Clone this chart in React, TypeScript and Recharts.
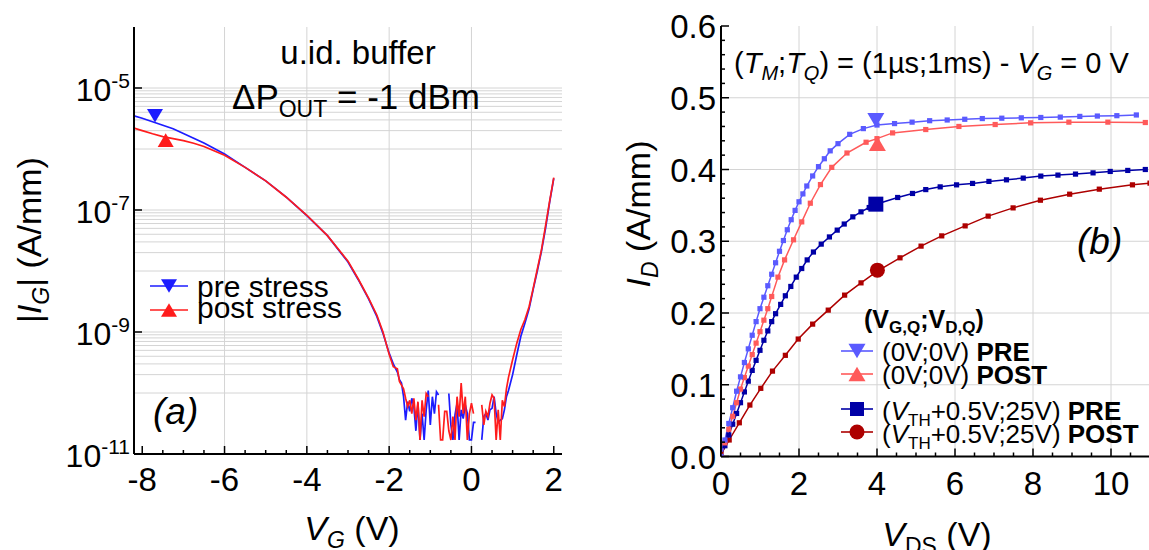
import React from "react";
import { CartesianGrid, ComposedChart, Line, Scatter, XAxis, YAxis } from "recharts";

const FONT = "Arial, 'Liberation Sans', Helvetica, sans-serif";

// ---- panel (a): |I_G| vs V_G, log scale ----
const vgA = [
  -8.2, -8.0, -7.75, -7.5, -7.25, -7.0, -6.75, -6.5, -6.0, -5.5, -5.0, -4.5, -4.0, -3.5, -3.0, -2.75, -2.5, -2.3, -2.15, -2.0, -1.9, -1.8,
  -1.75, -1.7, -1.65, -1.6, -1.55, -1.5, -1.45, -1.4, -1.35, -1.3, -1.25, -1.2, -1.15, -1.1, -1.05, -1.0, -0.95, -0.9, -0.85, -0.8,
  -0.75, -0.7, -0.65, -0.6, -0.55, -0.5, -0.45, -0.4, -0.35, -0.3, -0.25, -0.2, -0.15, -0.1, -0.05, 0.0, 0.05, 0.1, 0.15, 0.2,
  0.25, 0.3, 0.35, 0.4, 0.45, 0.5, 0.55, 0.6, 0.65, 0.7, 0.75, 0.8, 0.85, 0.9,
  1.0, 1.1, 1.2, 1.3, 1.4, 1.5, 1.6, 1.7, 1.8, 1.9, 2.0,
];
const igPre = [
  3.5e-6, 3.2e-6, 2.8e-6, 2.45e-6, 2.15e-6, 1.8e-6, 1.5e-6, 1.25e-6, 8.3e-7, 5.0e-7, 3.0e-7, 1.63e-7, 8.1e-8, 3.8e-8, 1.4e-8, 7.2e-9, 3.5e-9, 1.8e-9, 9.5e-10, 4.5e-10, 3.0e-10, 2.2e-10,
  1.65e-10, 1.45e-10, 8.7e-11, 3.6e-11, 7.2e-11, 5.0e-11, 8.2e-11, 6.0e-11, 2.4e-11, 6.8e-11, 1.7e-11, 4.6e-11, 1.7e-11, 5.3e-11, 1.1e-10, 3.0e-11, 8.7e-11, 4.6e-11, 1.05e-10, 9.3e-11,
  null, null, null, null, 9.8e-11, 3.0e-11, 1.7e-11, 4.4e-11, 6.8e-11, 1.7e-11, 5.3e-11, 3.8e-11, 6.4e-11, 4.6e-11, 1.7e-11, 1.7e-11, 3.3e-11, 3.3e-11, null, null,
  1.7e-11, 4.1e-11, 4.6e-11, 3.6e-11, 5.3e-11, 5.6e-11, 8.7e-11, 4.6e-11, 3.3e-11, 3.6e-11, 3.8e-11, 5.3e-11, 8.7e-11, 1.1e-10,
  2.0e-10, 4.2e-10, 8.5e-10, 1.4e-9, 2.4e-9, 5.0e-9, 1.0e-8, 2.1e-8, 5.0e-8, 1.35e-7, 3.3e-7,
];
const igPost = [
  2.2e-6, 2.0e-6, 1.78e-6, 1.6e-6, 1.48e-6, 1.37e-6, 1.24e-6, 1.1e-6, 7.9e-7, 5.0e-7, 3.0e-7, 1.62e-7, 8.2e-8, 3.8e-8, 1.45e-8, 7.4e-9, 3.6e-9, 1.9e-9, 1.0e-9, 4.3e-10, 2.7e-10, 2.5e-10,
  1.55e-10, 1.35e-10, 1.17e-10, 8.2e-11, 6.0e-11, 7.6e-11, 4.6e-11, 8.2e-11, 3.6e-11, 7.2e-11, 1.7e-11, 7.6e-11, 4.1e-11, 9.8e-11, 8.7e-11, null, null, null, null, 6.4e-11,
  1.7e-11, 1.7e-11, 5.0e-11, 5.0e-11, 2.4e-11, 1.7e-11, 4.1e-11, 1.7e-11, 8.7e-11, 4.1e-11, 1.45e-10, 4.6e-11, 8.7e-11, 1.7e-11, 4.6e-11, 6.8e-11, 4.6e-11, null, null, null,
  6.4e-11, 3.0e-11, 5.0e-11, 4.1e-11, 6.8e-11, 9.3e-11, 8.2e-11, 1.7e-11, 5.3e-11, 1.7e-11, 7.6e-11, 6.0e-11, 1.17e-10, 1.8e-10,
  3.5e-10, 6.5e-10, 1.1e-9, 1.6e-9, 2.6e-9, 5.2e-9, 1.07e-8, 2.2e-8, 5.5e-8, 1.4e-7, 3.4e-7,
];
const markPreA = [{ vg: -7.69, ig: 3.5e-6 }];
const markPostA = [{ vg: -7.43, ig: 1.4e-6 }];
const logTicksA = [1e-11, 1e-9, 1e-7, 1e-5];
const minorDecadesA = [-6, -8, -10];

// ---- panel (b): I_D vs V_DS ----
const vdsPre0 = [0, 0.1, 0.2, 0.3, 0.4, 0.5, 0.6, 0.7, 0.8, 0.9, 1.0, 1.1, 1.2, 1.3, 1.4, 1.5, 1.6, 1.7, 1.8, 1.9, 2.0, 2.1, 2.2, 2.35, 2.5, 2.65, 2.8, 3.0, 3.3, 3.65, 4.0, 4.45, 4.9, 5.35, 5.8, 6.25, 6.7, 7.2, 7.7, 8.2, 8.7, 9.2, 9.65, 10.15, 10.65];
const idPre0 = [0.0, 0.023, 0.046, 0.068, 0.091, 0.111, 0.131, 0.15, 0.169, 0.188, 0.206, 0.222, 0.238, 0.254, 0.27, 0.286, 0.301, 0.316, 0.33, 0.343, 0.355, 0.366, 0.377, 0.391, 0.404, 0.415, 0.426, 0.436, 0.449, 0.457, 0.462, 0.464, 0.466, 0.468, 0.469, 0.47, 0.471, 0.4715, 0.472, 0.4725, 0.473, 0.474, 0.4745, 0.475, 0.476];
const vdsPost0 = [0, 0.1, 0.2, 0.3, 0.4, 0.5, 0.6, 0.7, 0.8, 0.9, 1.0, 1.1, 1.2, 1.3, 1.46, 1.63, 1.86, 2.07, 2.29, 2.55, 2.84, 3.23, 3.72, 4.0, 4.4, 5.25, 6.1, 7.03, 7.94, 8.92, 9.92, 10.88];
const idPost0 = [0.0, 0.019, 0.038, 0.056, 0.075, 0.094, 0.11, 0.126, 0.142, 0.158, 0.174, 0.19, 0.206, 0.223, 0.25, 0.274, 0.302, 0.327, 0.353, 0.379, 0.403, 0.423, 0.438, 0.443, 0.451, 0.4557, 0.46, 0.4627, 0.465, 0.466, 0.466, 0.4655];
const vdsPreTh = [0, 0.1, 0.2, 0.3, 0.4, 0.5, 0.6, 0.7, 0.8, 0.9, 1.0, 1.1, 1.2, 1.3, 1.4, 1.53, 1.65, 1.79, 1.93, 2.07, 2.21, 2.37, 2.57, 2.78, 2.98, 3.16, 3.38, 3.59, 3.8, 4.0, 4.53, 4.91, 5.25, 5.62, 6.04, 6.45, 6.87, 7.32, 7.75, 8.2, 8.64, 9.09, 9.54, 9.98, 10.43, 10.88];
const idPreTh = [0.0, 0.015, 0.03, 0.045, 0.06, 0.075, 0.09, 0.105, 0.12, 0.134, 0.148, 0.162, 0.175, 0.188, 0.199, 0.212, 0.224, 0.237, 0.25, 0.262, 0.274, 0.285, 0.296, 0.306, 0.3155, 0.324, 0.334, 0.341, 0.347, 0.352, 0.361, 0.3666, 0.372, 0.3758, 0.3786, 0.3806, 0.3834, 0.3856, 0.388, 0.3908, 0.3922, 0.3936, 0.3953, 0.3973, 0.3987, 0.4];
const vdsPostTh = [0, 0.21, 0.47, 0.74, 1.02, 1.32, 1.65, 1.98, 2.35, 2.75, 3.17, 3.59, 4.0, 4.59, 5.13, 5.66, 6.26, 6.85, 7.49, 8.19, 8.94, 9.7, 10.55, 11.0];
const idPostTh = [0.003, 0.023, 0.047, 0.0717, 0.095, 0.119, 0.141, 0.1637, 0.1845, 0.204, 0.2249, 0.242, 0.258, 0.2769, 0.2932, 0.3075, 0.3214, 0.335, 0.3465, 0.3572, 0.3656, 0.3726, 0.3786, 0.381];
const bigMarksB = [
  { v: 3.97, id: 0.4687 },
  { v: 4.01, id: 0.436 },
  { v: 3.97, id: 0.3517 },
  { v: 4.01, id: 0.2597 },
];

const C_BLUE = "#1c1cff";
const C_RED = "#ff1c1c";
const C_LBLUE = "#5a5aff";
const C_LRED = "#ff5a5a";
const C_DBLUE = "#0000a6";
const C_DRED = "#ad0000";

const rowsA = vgA.map((vg, i) => ({ vg, pre: igPre[i], post: igPost[i] }));
const toRows = (vs: number[], ids: number[]) => vs.map((v, i) => ({ v, id: ids[i] }));

const gridA: number[] = [];
logTicksA.slice(1).forEach((t) => gridA.push(t));
minorDecadesA.forEach((d) => {
  for (let k = 2; k <= 9; k++) gridA.push(k * Math.pow(10, d));
  gridA.push(Math.pow(10, d));
});

const xTicksA = Array.from({ length: 21 }, (_, i) => -8 + i * 0.5);
const xTicksB = Array.from({ length: 23 }, (_, i) => i * 0.5);
const yTicksB = Array.from({ length: 31 }, (_, i) => Math.round(i * 2) / 100);

const isMult = (v: number, step: number) => Math.abs(v / step - Math.round(v / step)) < 1e-6;

function BottomTick(props: any) {
  const { x, y, payload } = props;
  const major = isMult(payload.value, 2);
  return (
    <g>
      <line x1={x} x2={x} y1={y} y2={y - (major ? 8 : 4)} stroke="#000" strokeWidth={1.5} />
      {major && (
        <text x={x} y={y + props.dy} textAnchor="middle" fontSize={33} fontFamily={FONT} fill="#000">
          {payload.value}
        </text>
      )}
    </g>
  );
}

function TopTick(props: any) {
  const { x, y, payload } = props;
  const major = isMult(payload.value, 2);
  return <line x1={x} x2={x} y1={y} y2={y + (major ? 8 : 4)} stroke="#000" strokeWidth={1.5} />;
}

function LogTick(props: any) {
  const { x, y, payload } = props;
  const exp = Math.round(Math.log10(payload.value));
  return (
    <g>
      <line x1={x} x2={x + 8} y1={y} y2={y} stroke="#000" strokeWidth={1.5} />
      <text x={x - 4} y={y + 13} textAnchor="end" fontFamily={FONT} fill="#000">
        <tspan fontSize={32}>10</tspan>
        <tspan fontSize={21} dy={-13}>{exp}</tspan>
      </text>
    </g>
  );
}

function RightLogTick(props: any) {
  const { x, y } = props;
  return <line x1={x} x2={x - 8} y1={y} y2={y} stroke="#000" strokeWidth={1.5} />;
}

function LeftTickB(props: any) {
  const { x, y, payload } = props;
  const major = isMult(payload.value, 0.1);
  return (
    <g>
      <line x1={x} x2={x + (major ? 8 : 4)} y1={y} y2={y} stroke="#000" strokeWidth={1.5} />
      {major && (
        <text x={x - 5} y={y + 12} textAnchor="end" fontSize={33} fontFamily={FONT} fill="#000">
          {payload.value.toFixed(1)}
        </text>
      )}
    </g>
  );
}

function RightTickB(props: any) {
  const { x, y, payload } = props;
  const major = isMult(payload.value, 0.1);
  return <line x1={x} x2={x - (major ? 8 : 4)} y1={y} y2={y} stroke="#000" strokeWidth={1.5} />;
}

function DownTri({ cx, cy, s, fill }: { cx: number; cy: number; s: number; fill: string }) {
  const h = s * 0.85;
  return <polygon points={`${cx - s / 2},${cy - h / 2} ${cx + s / 2},${cy - h / 2} ${cx},${cy + h / 2}`} fill={fill} />;
}

function UpTri({ cx, cy, s, fill }: { cx: number; cy: number; s: number; fill: string }) {
  const h = s * 0.85;
  return <polygon points={`${cx - s / 2},${cy + h / 2} ${cx + s / 2},${cy + h / 2} ${cx},${cy - h / 2}`} fill={fill} />;
}

const squareDot = (fill: string) => (p: any) => {
  if (p.cx == null || p.cy == null) return <g key={p.index} />;
  return <rect key={p.index} x={p.cx - 2.6} y={p.cy - 2.6} width={5.2} height={5.2} fill={fill} />;
};

const axisLine = { stroke: "#000", strokeWidth: 2 };

function PanelA() {
  return (
    <ComposedChart width={600} height={550} data={rowsA} margin={{ top: 27, right: 38, bottom: 46, left: 34 }}>
      <CartesianGrid horizontalValues={gridA} verticalValues={[-6, -4, -2, 0]} stroke="#d4d4d4" strokeWidth={1} />
      <XAxis dataKey="vg" type="number" domain={[-8.2, 2.2]} ticks={xTicksA} interval={0} height={50}
        tickSize={0} tickMargin={0} tickLine={false} axisLine={axisLine} allowDataOverflow
        tick={(p: any) => <BottomTick {...p} dy={37} />} />
      <XAxis xAxisId="top" orientation="top" type="number" domain={[-8.2, 2.2]} ticks={xTicksA} interval={0} height={0}
        tickSize={0} tickMargin={0} tickLine={false} axisLine={axisLine} allowDataOverflow
        tick={(p: any) => <TopTick {...p} />} />
      <YAxis type="number" scale="log" domain={[1e-11, 1e-4]} ticks={logTicksA} interval={0} width={100}
        tickSize={0} tickMargin={0} tickLine={false} axisLine={axisLine} allowDataOverflow
        tick={(p: any) => <LogTick {...p} />} />
      <YAxis yAxisId="r" orientation="right" type="number" scale="log" domain={[1e-11, 1e-4]} ticks={logTicksA} interval={0} width={0}
        tickSize={0} tickMargin={0} tickLine={false} axisLine={axisLine} allowDataOverflow
        tick={(p: any) => <RightLogTick {...p} />} />
      <Line dataKey="pre" type="linear" stroke={C_BLUE} strokeWidth={1.7} dot={false} isAnimationActive={false} connectNulls={false} />
      <Line dataKey="post" type="linear" stroke={C_RED} strokeWidth={1.7} dot={false} isAnimationActive={false} connectNulls={false} />
      <Scatter data={markPreA} dataKey="ig" isAnimationActive={false}
        shape={(p: any) => <DownTri cx={p.cx} cy={p.cy} s={16} fill={C_BLUE} />} />
      <Scatter data={markPostA} dataKey="ig" isAnimationActive={false}
        shape={(p: any) => <UpTri cx={p.cx} cy={p.cy} s={16} fill={C_RED} />} />
    </ComposedChart>
  );
}

function PanelB() {
  const bigShapes = [
    (p: any) => <DownTri cx={p.cx} cy={p.cy} s={17} fill={C_LBLUE} />,
    (p: any) => <UpTri cx={p.cx} cy={p.cy} s={17} fill={C_LRED} />,
    (p: any) => <rect x={p.cx - 7.5} y={p.cy - 7.5} width={15} height={15} fill={C_DBLUE} />,
    (p: any) => <circle cx={p.cx} cy={p.cy} r={7.5} fill={C_DRED} />,
  ];
  return (
    <ComposedChart width={560} height={550} margin={{ top: 26, right: 10, bottom: 43.5, left: 21 }}>
      <CartesianGrid horizontalValues={[0.1, 0.2, 0.3, 0.4, 0.5]} verticalValues={[2, 4, 6, 8, 10]} stroke="#d4d4d4" strokeWidth={1} />
      <XAxis dataKey="v" type="number" domain={[0, 11]} ticks={xTicksB} interval={0} height={50}
        tickSize={0} tickMargin={0} tickLine={false} axisLine={axisLine} allowDataOverflow
        tick={(p: any) => <BottomTick {...p} dy={38} />} />
      <XAxis xAxisId="top" orientation="top" type="number" domain={[0, 11]} ticks={xTicksB} interval={0} height={0}
        tickSize={0} tickMargin={0} tickLine={false} axisLine={axisLine} allowDataOverflow
        tick={(p: any) => <TopTick {...p} />} />
      <YAxis type="number" domain={[0, 0.6]} ticks={yTicksB} interval={0} width={100}
        tickSize={0} tickMargin={0} tickLine={false} axisLine={axisLine} allowDataOverflow
        tick={(p: any) => <LeftTickB {...p} />} />
      <YAxis yAxisId="r" orientation="right" type="number" domain={[0, 0.6]} ticks={yTicksB} interval={0} width={0}
        tickSize={0} tickMargin={0} tickLine={false} axisLine={axisLine} allowDataOverflow
        tick={(p: any) => <RightTickB {...p} />} />
      <Line data={toRows(vdsPostTh, idPostTh)} dataKey="id" type="linear" stroke={C_DRED} strokeWidth={1.5} dot={squareDot(C_DRED)} isAnimationActive={false} />
      <Line data={toRows(vdsPreTh, idPreTh)} dataKey="id" type="linear" stroke={C_DBLUE} strokeWidth={1.5} dot={squareDot(C_DBLUE)} isAnimationActive={false} />
      <Line data={toRows(vdsPost0, idPost0)} dataKey="id" type="linear" stroke={C_LRED} strokeWidth={1.5} dot={squareDot(C_LRED)} isAnimationActive={false} />
      <Line data={toRows(vdsPre0, idPre0)} dataKey="id" type="linear" stroke={C_LBLUE} strokeWidth={1.5} dot={squareDot(C_LBLUE)} isAnimationActive={false} />
      {bigMarksB.map((m, i) => (
        <Scatter key={i} data={[m]} dataKey="id" isAnimationActive={false} shape={bigShapes[i]} />
      ))}
    </ComposedChart>
  );
}

function Annotations() {
  const t = { fontFamily: FONT, fill: "#000" };
  return (
    <svg width={1149} height={550} style={{ position: "absolute", left: 0, top: 0, pointerEvents: "none" }}>
      {/* panel (a) */}
      <text x={358} y={64} textAnchor="middle" fontSize={33} {...t}>u.id. buffer</text>
      <text x={356} y={109} textAnchor="middle" fontSize={35} {...t}>
        ΔP<tspan fontSize={23} dy={8}>OUT</tspan><tspan dy={-8}> = -1 dBm</tspan>
      </text>
      <line x1={150} x2={188} y1={286} y2={286} stroke={C_BLUE} strokeWidth={1.7} />
      <DownTri cx={169} cy={286} s={16} fill={C_BLUE} />
      <line x1={150} x2={188} y1={310} y2={310} stroke={C_RED} strokeWidth={1.7} />
      <UpTri cx={169} cy={310} s={16} fill={C_RED} />
      <text x={197} y={297} fontSize={30} {...t}>pre stress</text>
      <text x={197} y={318} fontSize={30} {...t}>post stress</text>
      <text x={153} y={424} fontSize={37} fontStyle="italic" {...t}>(a)</text>
      <text x={352} y={540} textAnchor="middle" fontSize={34} {...t}>
        <tspan fontStyle="italic">V</tspan><tspan fontSize={23} dy={8} fontStyle="italic">G</tspan><tspan dy={-8}> (V)</tspan>
      </text>
      <text transform="translate(41,240) rotate(-90)" textAnchor="middle" fontSize={34} {...t}>
        |<tspan fontStyle="italic">I</tspan><tspan fontSize={23} dy={8} fontStyle="italic">G</tspan><tspan dy={-8}>| (A/mm)</tspan>
      </text>

      {/* panel (b) */}
      <text x={734} y={73} fontSize={29} {...t}>
        (<tspan fontStyle="italic">T</tspan><tspan fontSize={20} dy={7} fontStyle="italic">M</tspan>
        <tspan dy={-7}>;</tspan><tspan fontStyle="italic">T</tspan><tspan fontSize={20} dy={7} fontStyle="italic">Q</tspan>
        <tspan dy={-7}>) = (1µs;1ms) - </tspan><tspan fontStyle="italic">V</tspan>
        <tspan fontSize={20} dy={7} fontStyle="italic">G</tspan><tspan dy={-7}> = 0 V</tspan>
      </text>
      <text x={1077} y={254} fontSize={37} fontStyle="italic" {...t}>(b)</text>
      <text x={864} y={328} fontSize={25} fontWeight="bold" {...t}>
        (V<tspan fontSize={17} dy={5}>G,Q</tspan><tspan dy={-5}>;V</tspan><tspan fontSize={17} dy={5}>D,Q</tspan><tspan dy={-5}>)</tspan>
      </text>
      <line x1={841} x2={873} y1={351} y2={351} stroke={C_LBLUE} strokeWidth={1.6} />
      <DownTri cx={857} cy={351} s={17} fill={C_LBLUE} />
      <line x1={841} x2={873} y1={374} y2={374} stroke={C_LRED} strokeWidth={1.6} />
      <UpTri cx={857} cy={374} s={17} fill={C_LRED} />
      <line x1={841} x2={873} y1={409} y2={409} stroke={C_DBLUE} strokeWidth={1.6} />
      <rect x={850} y={402} width={14} height={14} fill={C_DBLUE} />
      <line x1={841} x2={873} y1={432} y2={432} stroke={C_DRED} strokeWidth={1.6} />
      <circle cx={857} cy={432} r={7.5} fill={C_DRED} />
      <text x={882} y={361} fontSize={26} {...t}>(0V;0V) <tspan fontWeight="bold">PRE</tspan></text>
      <text x={882} y={384} fontSize={26} {...t}>(0V;0V) <tspan fontWeight="bold">POST</tspan></text>
      <text x={882} y={420} fontSize={26} {...t}>
        (<tspan fontStyle="italic">V</tspan><tspan fontSize={17} dy={6}>TH</tspan><tspan dy={-6}>+0.5V;25V) </tspan><tspan fontWeight="bold">PRE</tspan>
      </text>
      <text x={882} y={443} fontSize={26} {...t}>
        (<tspan fontStyle="italic">V</tspan><tspan fontSize={17} dy={6}>TH</tspan><tspan dy={-6}>+0.5V;25V) </tspan><tspan fontWeight="bold">POST</tspan>
      </text>
      <text x={937} y={546} textAnchor="middle" fontSize={34} {...t}>
        <tspan fontStyle="italic">V</tspan><tspan fontSize={23} dy={8}>DS</tspan><tspan dy={-8}> (V)</tspan>
      </text>
      <text transform="translate(650,214) rotate(-90)" textAnchor="middle" fontSize={34} {...t}>
        <tspan fontStyle="italic">I</tspan><tspan fontSize={23} dy={8} fontStyle="italic">D</tspan><tspan dy={-8}> (A/mm)</tspan>
      </text>
    </svg>
  );
}

export default function App() {
  return (
    <div style={{ position: "fixed", left: 0, top: 0, width: 1149, height: 550, overflow: "hidden", background: "#fff" }}>
      <div style={{ position: "absolute", left: 0, top: 0 }}>
        <PanelA />
      </div>
      <div style={{ position: "absolute", left: 600, top: 0 }}>
        <PanelB />
      </div>
      <Annotations />
    </div>
  );
}
